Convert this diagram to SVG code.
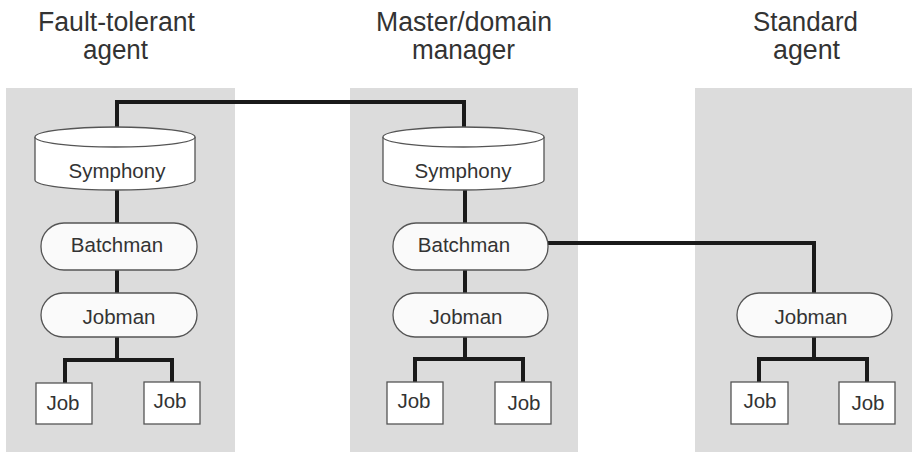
<svg xmlns="http://www.w3.org/2000/svg" width="912" height="452" viewBox="0 0 912 452">
<style>
.panel{fill:#dcdcdc}
.title{font-family:"Liberation Sans",Arial,sans-serif;font-size:27px;fill:#333;text-anchor:middle}
.lbl{font-family:"Liberation Sans",Arial,sans-serif;font-size:20.5px;fill:#333;text-anchor:middle}
.cyl{fill:#fff;stroke:#555;stroke-width:1.3}
.pill{fill:#fafafa;stroke:#555;stroke-width:1.3}
.job{fill:#fff;stroke:#555;stroke-width:1.3}
.conn{fill:none;stroke:#1a1a1a;stroke-width:4;stroke-linejoin:miter}
</style>
<rect width="912" height="452" fill="#fff"/>
<g id="panels">
<rect class="panel" x="6" y="88" width="229" height="364"/>
<rect class="panel" x="350" y="88" width="228" height="364"/>
<rect class="panel" x="695" y="88" width="217" height="364"/>
</g>
<g id="titles">
<text class="title" x="116.5" y="31" textLength="157" lengthAdjust="spacingAndGlyphs">Fault-tolerant</text>
<text class="title" x="115.5" y="59" textLength="65" lengthAdjust="spacingAndGlyphs">agent</text>
<text class="title" x="464" y="31" textLength="176" lengthAdjust="spacingAndGlyphs">Master/domain</text>
<text class="title" x="463.5" y="59" textLength="103" lengthAdjust="spacingAndGlyphs">manager</text>
<text class="title" x="805.5" y="31" textLength="105" lengthAdjust="spacingAndGlyphs">Standard</text>
<text class="title" x="806.5" y="59" textLength="67" lengthAdjust="spacingAndGlyphs">agent</text>
</g>
<g id="connectors">
<path class="conn" d="M117,127 V102 H464 V127"/>
<path class="conn" d="M117,190 V223 M117,270 V293 M117,337 V360 M65,383 V360 H172 V383"/>
<path class="conn" d="M465,190 V223 M465,270 V293 M465,337 V359 M415,382 V359 H523 V382"/>
<path class="conn" d="M548,243 H814 V293 M814,337 V359 M759,382 V359 H867 V382"/>
</g>
<g id="ft-symphony">
<path class="cyl" d="M35,137 V180 A80,10 0 0 0 195,180 V137"/>
<ellipse class="cyl" cx="115" cy="137" rx="80" ry="10"/>
<text class="lbl" x="117" y="178">Symphony</text>
</g>
<g id="ft-batchman">
<rect class="pill" x="41" y="223" width="156" height="47" rx="23"/>
<text class="lbl" x="117" y="252">Batchman</text>
</g>
<g id="ft-jobman">
<rect class="pill" x="41" y="293" width="156" height="44" rx="22"/>
<text class="lbl" x="119" y="324">Jobman</text>
</g>
<g id="ft-job1">
<rect class="job" x="36" y="383" width="56" height="41"/>
<text class="lbl" x="63" y="410">Job</text>
</g>
<g id="ft-job2">
<rect class="job" x="144" y="382" width="56" height="42"/>
<text class="lbl" x="170" y="408">Job</text>
</g>
<g id="mdm-symphony">
<path class="cyl" d="M383,137 V180 A80.5,10 0 0 0 544,180 V137"/>
<ellipse class="cyl" cx="463.5" cy="137" rx="80.5" ry="10"/>
<text class="lbl" x="463" y="178">Symphony</text>
</g>
<g id="mdm-batchman">
<rect class="pill" x="393" y="223" width="155" height="47" rx="23"/>
<text class="lbl" x="464" y="252">Batchman</text>
</g>
<g id="mdm-jobman">
<rect class="pill" x="393" y="293" width="155" height="44" rx="22"/>
<text class="lbl" x="466" y="324">Jobman</text>
</g>
<g id="mdm-job1">
<rect class="job" x="387" y="382" width="56" height="42"/>
<text class="lbl" x="414" y="408">Job</text>
</g>
<g id="mdm-job2">
<rect class="job" x="495" y="382" width="56" height="42"/>
<text class="lbl" x="524" y="410">Job</text>
</g>
<g id="sa-jobman">
<rect class="pill" x="737" y="293" width="155" height="44" rx="22"/>
<text class="lbl" x="811" y="324">Jobman</text>
</g>
<g id="sa-job1">
<rect class="job" x="731" y="382" width="57" height="42"/>
<text class="lbl" x="760" y="408">Job</text>
</g>
<g id="sa-job2">
<rect class="job" x="839" y="382" width="56" height="42"/>
<text class="lbl" x="868" y="410">Job</text>
</g>
</svg>
